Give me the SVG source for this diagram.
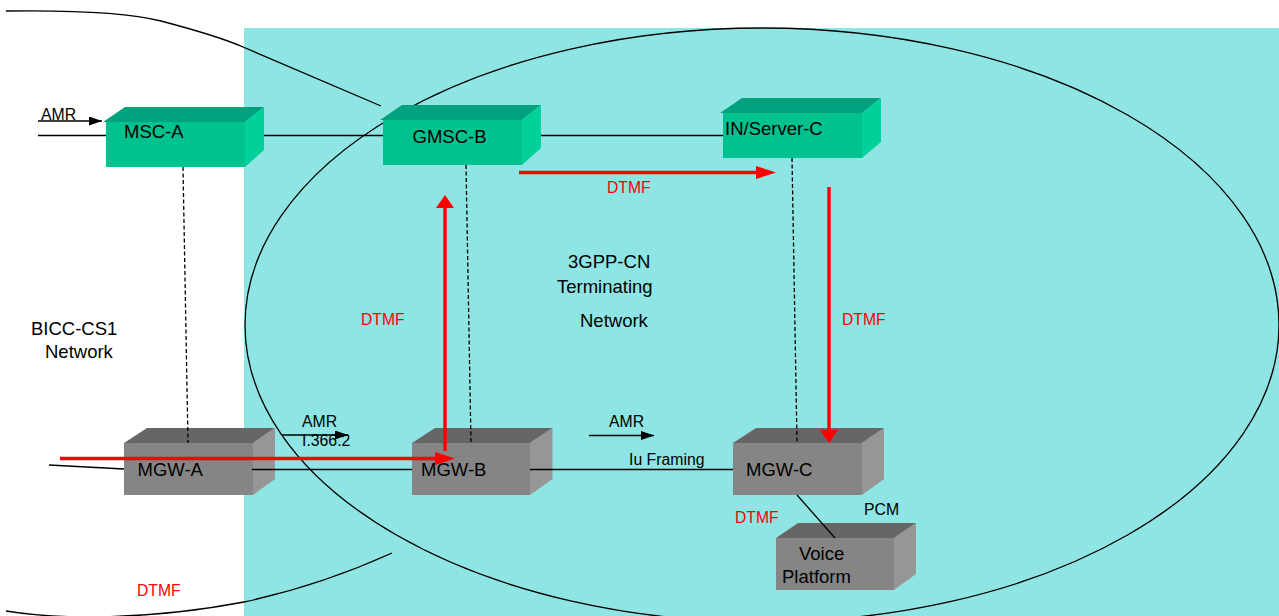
<svg xmlns="http://www.w3.org/2000/svg" width="1279" height="616" viewBox="0 0 1279 616">
<style>
text{font-family:"Liberation Sans",Arial,sans-serif;font-size:18.5px;fill:#000}
text.s{font-size:15.8px}
text.r{font-size:15.7px;fill:#f00}
.l{fill:none;stroke:#000;stroke-width:1.3}
.d{fill:none;stroke:#000;stroke-width:1.3;stroke-dasharray:4 2.5}
.red{fill:none;stroke:#f00;stroke-width:3.4}
.gf{fill:#00c28f}.gt{fill:#00a27e}.gs{fill:#00d09a}
.kf{fill:#858585}.kt{fill:#666}.ks{fill:#969696}
</style>
<defs>
<marker id="a" markerUnits="userSpaceOnUse" markerWidth="14" markerHeight="10" refX="13" refY="4.500" orient="auto"><path d="M0 0L13 4.500L0 9Z" fill="#000"/></marker>
<marker id="rh" markerUnits="userSpaceOnUse" markerWidth="21" markerHeight="14" refX="1" refY="6.500" orient="auto"><path d="M0 0L20 6.500L0 13Z" fill="#f00"/></marker>
<marker id="rv" markerUnits="userSpaceOnUse" markerWidth="14" markerHeight="19" refX="1" refY="9" orient="auto"><path d="M0 0L13 9L0 18Z" fill="#f00"/></marker>
</defs>
<rect x="0" y="0" width="1279" height="616" fill="#fff"/>
<rect x="244" y="28" width="1035" height="588" fill="#8fe5e3"/>
<g id="regions">
<ellipse cx="762" cy="325" rx="517" ry="297" class="l"/>
<path class="l" d="M6 11C80 10 130 13 161 21C195 30 225 39 243 47L381 106"/>
<path class="l" d="M6 611C60 620 150 620 244 602C300 590 350 572 392 553"/>
</g>
<g id="msc-a"><path class="gt" d="M103 122L125 107H264L245 122Z"/><path class="gs" d="M245 122L264 107V150L245 167Z"/><rect class="gf" x="106" y="122" width="139" height="45"/><text x="124" y="138">MSC-A</text></g>
<g id="gmsc-b"><path class="gt" d="M380 120L402 105H541L522 120Z"/><path class="gs" d="M522 120L541 105V148L522 165Z"/><rect class="gf" x="383" y="120" width="139" height="45"/><text x="412.500" y="143">GMSC-B</text></g>
<g id="in-server-c"><path class="gt" d="M720 113L742 98H881L862 113Z"/><path class="gs" d="M862 113L881 98V142L862 158Z"/><rect class="gf" x="723" y="113" width="139" height="45"/><text x="725" y="135">IN/Server-C</text></g>
<g id="mgw-a"><path class="kt" d="M124 443L147 428H275L253 443Z"/><path class="ks" d="M253 443L275 428V479L253 495Z"/><rect class="kf" x="124" y="443" width="129" height="52"/><text x="137.500" y="476">MGW-A</text></g>
<g id="mgw-b"><path class="kt" d="M412 443L435 428H552.500L530 443Z"/><path class="ks" d="M530 443L552.500 428V479L530 495Z"/><rect class="kf" x="412" y="443" width="118" height="52"/><text x="421" y="476">MGW-B</text></g>
<g id="mgw-c"><path class="kt" d="M733 443L756 428H884L862 443Z"/><path class="ks" d="M862 443L884 428V479L862 495Z"/><rect class="kf" x="733" y="443" width="129" height="52"/><text x="746" y="476">MGW-C</text></g>
<g id="voice-platform"><path class="kt" d="M776 538L798 523H916L894 538Z"/><path class="ks" d="M894 538L916 523V574L894 590Z"/><rect class="kf" x="776" y="538" width="118" height="52"/><text x="799" y="560">Voice</text><text x="782" y="583">Platform</text></g>
<g id="connectors">
<path class="l" d="M38 135.500H106M264 135.500H383M541 135.500H723"/>
<path class="l" d="M38 121H102" marker-end="url(#a)"/>
<path class="l" d="M49 465L124 469M252 469.500H412M530 469.500H733"/>
<path class="l" d="M797 495L835 538"/>
<path class="l" d="M282 435H348" marker-end="url(#a)"/>
<path class="l" d="M589 435.500H654" marker-end="url(#a)"/>
<path class="d" d="M183 167L188 443"/>
<path class="d" d="M466 165L471 443"/>
<path class="d" d="M792 158L797 443"/>
<path class="red" d="M60 458.500H436" marker-end="url(#rh)"/>
<path class="red" d="M519 172.500H757" marker-end="url(#rh)"/>
<path class="red" d="M445 451V207" marker-end="url(#rv)"/>
<path class="red" d="M829 187V431" marker-end="url(#rv)"/>
</g>
<g id="labels">
<text class="s" x="41" y="120">AMR</text>
<text class="s" x="302" y="427">AMR</text>
<text class="s" x="302" y="446">I.366.2</text>
<text class="s" x="609" y="427">AMR</text>
<text class="s" x="629" y="465">Iu Framing</text>
<text class="s" x="864" y="515">PCM</text>
<text class="r" x="607" y="193">DTMF</text>
<text class="r" x="361" y="325">DTMF</text>
<text class="r" x="842" y="325">DTMF</text>
<text class="r" x="735" y="523">DTMF</text>
<text class="r" x="137" y="596">DTMF</text>
<text x="568" y="268">3GPP-CN</text>
<text x="557" y="292.500">Terminating</text>
<text x="580" y="326.500">Network</text>
<text x="31" y="335">BICC-CS1</text>
<text x="45" y="358">Network</text>
</g>
</svg>
